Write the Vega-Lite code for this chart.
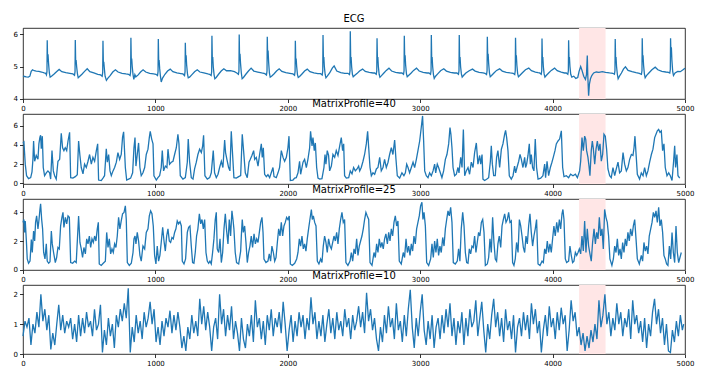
{
"$schema":"https://vega.github.io/schema/vega-lite/v6.json",
"background":"white",
"padding":{"left":12,"top":13,"right":5,"bottom":5},
"config":{
"view":{"stroke":"#000","strokeWidth":0.8},
"font":"DejaVu Sans",
"axis":{"grid":false,"domain":false,"tickColor":"#000","tickSize":3.5,"tickWidth":0.8,"labelFontSize":7,"labelColor":"#000","labelFont":"DejaVu Sans","labelPadding":2},
"title":{"fontSize":10,"fontWeight":"normal","font":"DejaVu Sans","color":"#000","offset":4}
},
"datasets":{
"span":[{"a":4200,"b":4400}],
"ecg":[{"x":0,"y":4.7},{"x":12,"y":4.69},{"x":25,"y":4.68},{"x":40,"y":4.67},{"x":52,"y":4.7},{"x":62,"y":4.85},{"x":72,"y":4.9},{"x":85,"y":4.87},{"x":100,"y":4.86},{"x":120,"y":4.85},{"x":140,"y":4.83},{"x":160,"y":4.8},
{"x":171,"y":4.79},{"x":177,"y":4.74},{"x":181,"y":4.85},{"x":183,"y":5.82},{"x":186,"y":5.15},{"x":189,"y":5.38},{"x":193,"y":5.1},{"x":199,"y":4.8},{"x":205,"y":4.67},{"x":215,"y":4.7},{"x":233,"y":4.76},{"x":253,"y":4.84},{"x":273,"y":4.91},{"x":293,"y":4.84},{"x":323,"y":4.81},{"x":353,"y":4.79},
{"x":377,"y":4.77},{"x":389,"y":4.73},{"x":393,"y":4.84},{"x":395,"y":5.83},{"x":398,"y":5.1},{"x":401,"y":5.2},{"x":405,"y":5.0},{"x":411,"y":4.78},{"x":417,"y":4.65},{"x":427,"y":4.69},{"x":445,"y":4.76},{"x":465,"y":4.85},{"x":485,"y":4.93},{"x":505,"y":4.84},{"x":535,"y":4.8},{"x":565,"y":4.76},
{"x":586,"y":4.74},{"x":598,"y":4.7},{"x":602,"y":4.82},{"x":604,"y":5.8},{"x":607,"y":5.1},{"x":610,"y":5.15},{"x":614,"y":4.95},{"x":620,"y":4.7},{"x":630,"y":4.57},{"x":640,"y":4.63},{"x":658,"y":4.72},{"x":678,"y":4.83},{"x":698,"y":4.9},{"x":718,"y":4.83},{"x":748,"y":4.79},{"x":778,"y":4.77},
{"x":797,"y":4.76},{"x":809,"y":4.72},{"x":813,"y":4.84},{"x":815,"y":5.9},{"x":818,"y":5.15},{"x":821,"y":5.25},{"x":825,"y":5.0},{"x":831,"y":4.75},{"x":837,"y":4.6},{"x":845,"y":4.75},{"x":852,"y":4.68},{"x":870,"y":4.74},{"x":888,"y":4.83},{"x":907,"y":4.9},{"x":927,"y":4.83},{"x":957,"y":4.79},{"x":987,"y":4.77},
{"x":1004,"y":4.76},{"x":1016,"y":4.72},{"x":1020,"y":4.84},{"x":1022,"y":5.86},{"x":1025,"y":5.15},{"x":1028,"y":5.2},{"x":1032,"y":4.95},{"x":1038,"y":4.7},{"x":1044,"y":4.52},{"x":1054,"y":4.64},{"x":1072,"y":4.76},{"x":1092,"y":4.86},{"x":1112,"y":4.92},{"x":1132,"y":4.84},{"x":1162,"y":4.8},{"x":1192,"y":4.78},
{"x":1208,"y":4.77},{"x":1220,"y":4.72},{"x":1224,"y":4.84},{"x":1226,"y":5.74},{"x":1229,"y":5.2},{"x":1232,"y":5.35},{"x":1236,"y":5.05},{"x":1242,"y":4.78},{"x":1248,"y":4.65},{"x":1258,"y":4.67},{"x":1276,"y":4.75},{"x":1296,"y":4.84},{"x":1316,"y":4.9},{"x":1336,"y":4.83},{"x":1366,"y":4.8},{"x":1396,"y":4.77},
{"x":1409,"y":4.76},{"x":1421,"y":4.72},{"x":1425,"y":4.84},{"x":1427,"y":5.96},{"x":1430,"y":5.2},{"x":1433,"y":5.3},{"x":1437,"y":5.0},{"x":1443,"y":4.75},{"x":1449,"y":4.62},{"x":1459,"y":4.66},{"x":1477,"y":4.76},{"x":1497,"y":4.86},{"x":1517,"y":4.93},{"x":1537,"y":4.87},{"x":1567,"y":4.87},{"x":1597,"y":4.84},
{"x":1615,"y":4.8},{"x":1627,"y":4.76},{"x":1631,"y":4.86},{"x":1633,"y":6.0},{"x":1636,"y":5.2},{"x":1639,"y":5.4},{"x":1643,"y":5.1},{"x":1649,"y":4.8},{"x":1655,"y":4.62},{"x":1665,"y":4.66},{"x":1683,"y":4.76},{"x":1703,"y":4.86},{"x":1723,"y":4.95},{"x":1743,"y":4.86},{"x":1773,"y":4.83},{"x":1803,"y":4.8},
{"x":1827,"y":4.78},{"x":1839,"y":4.74},{"x":1843,"y":4.86},{"x":1845,"y":5.93},{"x":1848,"y":5.3},{"x":1851,"y":5.5},{"x":1855,"y":5.15},{"x":1861,"y":4.8},{"x":1867,"y":4.67},{"x":1877,"y":4.7},{"x":1895,"y":4.77},{"x":1915,"y":4.86},{"x":1935,"y":4.93},{"x":1955,"y":4.85},{"x":1985,"y":4.81},{"x":2015,"y":4.79},
{"x":2039,"y":4.77},{"x":2051,"y":4.73},{"x":2055,"y":4.85},{"x":2057,"y":5.8},{"x":2060,"y":5.15},{"x":2063,"y":5.25},{"x":2067,"y":5.0},{"x":2073,"y":4.75},{"x":2079,"y":4.66},{"x":2089,"y":4.69},{"x":2107,"y":4.77},{"x":2127,"y":4.86},{"x":2147,"y":4.92},{"x":2167,"y":4.84},{"x":2197,"y":4.8},{"x":2227,"y":4.78},
{"x":2248,"y":4.78},{"x":2260,"y":4.74},{"x":2264,"y":4.86},{"x":2266,"y":5.98},{"x":2269,"y":5.2},{"x":2272,"y":5.3},{"x":2276,"y":5.0},{"x":2282,"y":4.76},{"x":2288,"y":4.65},{"x":2298,"y":4.7},{"x":2316,"y":4.8},{"x":2336,"y":4.95},{"x":2350,"y":5.02},{"x":2370,"y":4.86},{"x":2400,"y":4.81},{"x":2430,"y":4.79},
{"x":2454,"y":4.79},{"x":2466,"y":4.75},{"x":2470,"y":4.87},{"x":2472,"y":6.1},{"x":2475,"y":5.2},{"x":2478,"y":5.3},{"x":2482,"y":5.0},{"x":2488,"y":4.76},{"x":2494,"y":4.68},{"x":2504,"y":4.72},{"x":2522,"y":4.78},{"x":2542,"y":4.86},{"x":2565,"y":4.92},{"x":2585,"y":4.85},{"x":2615,"y":4.82},{"x":2645,"y":4.8},
{"x":2656,"y":4.8},{"x":2668,"y":4.76},{"x":2672,"y":4.87},{"x":2674,"y":5.88},{"x":2677,"y":5.2},{"x":2680,"y":5.3},{"x":2684,"y":5.0},{"x":2690,"y":4.76},{"x":2696,"y":4.67},{"x":2706,"y":4.71},{"x":2724,"y":4.79},{"x":2744,"y":4.88},{"x":2764,"y":4.95},{"x":2784,"y":4.86},{"x":2814,"y":4.82},{"x":2844,"y":4.8},
{"x":2862,"y":4.8},{"x":2874,"y":4.76},{"x":2878,"y":4.87},{"x":2880,"y":5.96},{"x":2883,"y":5.2},{"x":2886,"y":5.35},{"x":2890,"y":5.05},{"x":2896,"y":4.78},{"x":2902,"y":4.68},{"x":2912,"y":4.72},{"x":2930,"y":4.79},{"x":2950,"y":4.88},{"x":2972,"y":4.95},{"x":2992,"y":4.86},{"x":3022,"y":4.82},{"x":3052,"y":4.8},
{"x":3066,"y":4.8},{"x":3078,"y":4.76},{"x":3082,"y":4.87},{"x":3084,"y":5.98},{"x":3087,"y":5.2},{"x":3090,"y":5.3},{"x":3094,"y":5.0},{"x":3100,"y":4.75},{"x":3106,"y":4.63},{"x":3116,"y":4.7},{"x":3134,"y":4.78},{"x":3154,"y":4.87},{"x":3178,"y":4.93},{"x":3198,"y":4.86},{"x":3228,"y":4.82},{"x":3258,"y":4.8},
{"x":3277,"y":4.8},{"x":3289,"y":4.76},{"x":3293,"y":4.87},{"x":3295,"y":5.98},{"x":3298,"y":5.2},{"x":3301,"y":5.3},{"x":3305,"y":5.0},{"x":3311,"y":4.77},{"x":3317,"y":4.67},{"x":3327,"y":4.72},{"x":3345,"y":4.8},{"x":3370,"y":4.87},{"x":3395,"y":4.92},{"x":3415,"y":4.86},{"x":3445,"y":4.82},{"x":3475,"y":4.8},
{"x":3489,"y":4.79},{"x":3501,"y":4.75},{"x":3505,"y":4.87},{"x":3507,"y":5.93},{"x":3510,"y":5.25},{"x":3513,"y":5.4},{"x":3517,"y":5.1},{"x":3523,"y":4.8},{"x":3529,"y":4.68},{"x":3539,"y":4.72},{"x":3557,"y":4.8},{"x":3577,"y":4.88},{"x":3600,"y":4.93},{"x":3620,"y":4.86},{"x":3650,"y":4.82},{"x":3680,"y":4.8},
{"x":3702,"y":4.79},{"x":3714,"y":4.75},{"x":3718,"y":4.87},{"x":3720,"y":5.9},{"x":3723,"y":5.25},{"x":3726,"y":5.35},{"x":3730,"y":5.05},{"x":3736,"y":4.78},{"x":3742,"y":4.68},{"x":3752,"y":4.72},{"x":3770,"y":4.8},{"x":3795,"y":4.9},{"x":3820,"y":4.95},{"x":3840,"y":4.87},{"x":3870,"y":4.83},{"x":3890,"y":4.81},
{"x":3902,"y":4.8},{"x":3914,"y":4.76},{"x":3918,"y":4.87},{"x":3920,"y":5.87},{"x":3923,"y":5.2},{"x":3926,"y":5.3},{"x":3930,"y":5.0},{"x":3936,"y":4.77},{"x":3942,"y":4.67},{"x":3952,"y":4.72},{"x":3970,"y":4.8},{"x":3990,"y":4.88},{"x":4015,"y":4.95},{"x":4035,"y":4.87},{"x":4065,"y":4.83},{"x":4090,"y":4.8},
{"x":4103,"y":4.8},{"x":4115,"y":4.76},{"x":4119,"y":4.87},{"x":4121,"y":5.82},{"x":4124,"y":5.2},{"x":4127,"y":5.3},{"x":4131,"y":5.0},{"x":4137,"y":4.76},{"x":4145,"y":4.67},{"x":4160,"y":4.7},{"x":4175,"y":4.63},{"x":4190,"y":4.66},{"x":4200,"y":4.85},{"x":4212,"y":5.0},{"x":4222,"y":4.88},{"x":4235,"y":4.7},{"x":4248,"y":4.6},{"x":4256,"y":4.75},{"x":4262,"y":5.34},{"x":4266,"y":4.7},{"x":4272,"y":4.09},{"x":4278,"y":4.45},{"x":4286,"y":4.62},{"x":4296,"y":4.72},{"x":4310,"y":4.8},{"x":4330,"y":4.83},{"x":4350,"y":4.82},{"x":4375,"y":4.84},{"x":4400,"y":4.82},{"x":4430,"y":4.8},{"x":4455,"y":4.79},
{"x":4467,"y":4.76},{"x":4471,"y":4.87},{"x":4473,"y":5.86},{"x":4476,"y":5.2},{"x":4479,"y":5.3},{"x":4483,"y":5.0},{"x":4489,"y":4.76},{"x":4495,"y":4.62},{"x":4505,"y":4.7},{"x":4520,"y":4.8},{"x":4535,"y":4.92},{"x":4550,"y":4.99},{"x":4570,"y":4.88},{"x":4600,"y":4.84},{"x":4630,"y":4.81},{"x":4655,"y":4.79},
{"x":4671,"y":4.76},{"x":4675,"y":4.87},{"x":4677,"y":5.88},{"x":4680,"y":5.25},{"x":4683,"y":5.35},{"x":4687,"y":5.05},{"x":4693,"y":4.78},{"x":4699,"y":4.65},{"x":4709,"y":4.72},{"x":4727,"y":4.8},{"x":4750,"y":4.9},{"x":4775,"y":4.98},{"x":4795,"y":4.9},{"x":4825,"y":4.85},{"x":4855,"y":4.83},{"x":4875,"y":4.82},
{"x":4885,"y":4.8},{"x":4889,"y":4.9},{"x":4891,"y":5.88},{"x":4894,"y":5.3},{"x":4897,"y":5.6},{"x":4901,"y":5.2},{"x":4907,"y":4.85},{"x":4913,"y":4.72},{"x":4925,"y":4.8},{"x":4945,"y":4.85},{"x":4965,"y":4.84},{"x":4985,"y":4.9},{"x":5000,"y":4.95}],
"mp40":[{"x":0,"y":4.2},{"x":7,"y":4.3},{"x":17,"y":2.0},{"x":27,"y":0.8},{"x":42,"y":0.5},{"x":58,"y":0.6},{"x":68,"y":1.2},{"x":75,"y":2.5},{"x":80,"y":4.4},{"x":88,"y":2.3},{"x":100,"y":2.9},{"x":113,"y":2.5},{"x":120,"y":4.1},{"x":128,"y":4.8},{"x":133,"y":5.0},{"x":138,"y":3.6},{"x":146,"y":4.9},{"x":153,"y":1.65},{"x":163,"y":0.8},{"x":176,"y":1.1},{"x":188,"y":1.3},{"x":201,"y":1.1},{"x":209,"y":0.45},{"x":219,"y":3.4},{"x":229,"y":1.3},{"x":239,"y":0.8},{"x":251,"y":0.45},{"x":264,"y":2.3},{"x":277,"y":2.5},{"x":289,"y":5.2},{"x":299,"y":3.7},{"x":309,"y":3.4},{"x":319,"y":3.7},{"x":330,"y":3.4},{"x":340,"y":4.4},{"x":352,"y":5.3},{"x":360,"y":0.6},{"x":377,"y":0.55},{"x":395,"y":0.7},{"x":410,"y":0.9},{"x":420,"y":4.4},{"x":430,"y":2.9},{"x":440,"y":1.65},{"x":453,"y":1.0},{"x":465,"y":2.0},{"x":478,"y":1.65},{"x":491,"y":2.3},{"x":503,"y":3.0},{"x":516,"y":2.0},{"x":528,"y":2.7},{"x":541,"y":2.3},{"x":554,"y":3.4},{"x":564,"y":4.1},{"x":571,"y":0.35},{"x":591,"y":0.3},{"x":604,"y":0.55},{"x":616,"y":0.8},{"x":629,"y":3.6},{"x":637,"y":2.2},{"x":647,"y":3.0},{"x":657,"y":1.3},{"x":667,"y":0.8},{"x":680,"y":1.3},{"x":692,"y":1.65},{"x":705,"y":2.2},{"x":717,"y":3.2},{"x":730,"y":2.5},{"x":742,"y":3.0},{"x":752,"y":4.8},{"x":760,"y":5.35},{"x":773,"y":1.65},{"x":783,"y":0.35},{"x":798,"y":0.45},{"x":813,"y":0.55},{"x":828,"y":1.1},{"x":838,"y":3.7},{"x":846,"y":4.75},{"x":853,"y":1.8},{"x":863,"y":3.0},{"x":873,"y":4.2},{"x":883,"y":1.65},{"x":893,"y":0.8},{"x":906,"y":1.1},{"x":919,"y":1.65},{"x":931,"y":3.0},{"x":944,"y":3.55},{"x":954,"y":4.75},{"x":961,"y":5.4},{"x":972,"y":4.6},{"x":982,"y":4.1},{"x":989,"y":0.8},{"x":1007,"y":0.35},{"x":1019,"y":0.6},{"x":1032,"y":0.8},{"x":1044,"y":1.65},{"x":1052,"y":3.4},{"x":1062,"y":1.3},{"x":1075,"y":1.8},{"x":1087,"y":1.65},{"x":1095,"y":3.55},{"x":1107,"y":2.0},{"x":1120,"y":2.2},{"x":1133,"y":2.3},{"x":1145,"y":3.0},{"x":1158,"y":3.7},{"x":1170,"y":5.1},{"x":1178,"y":4.1},{"x":1188,"y":0.8},{"x":1208,"y":0.45},{"x":1226,"y":0.6},{"x":1241,"y":2.2},{"x":1248,"y":4.6},{"x":1258,"y":2.3},{"x":1271,"y":0.6},{"x":1284,"y":0.45},{"x":1296,"y":1.5},{"x":1309,"y":2.2},{"x":1321,"y":3.0},{"x":1334,"y":3.55},{"x":1347,"y":3.2},{"x":1357,"y":3.9},{"x":1364,"y":5.0},{"x":1374,"y":0.8},{"x":1392,"y":0.45},{"x":1410,"y":0.6},{"x":1422,"y":1.1},{"x":1437,"y":3.4},{"x":1447,"y":1.1},{"x":1460,"y":0.6},{"x":1473,"y":0.95},{"x":1485,"y":1.65},{"x":1498,"y":2.3},{"x":1510,"y":1.65},{"x":1523,"y":4.5},{"x":1530,"y":3.2},{"x":1540,"y":2.5},{"x":1553,"y":1.65},{"x":1563,"y":1.3},{"x":1573,"y":5.4},{"x":1593,"y":0.6},{"x":1611,"y":0.55},{"x":1629,"y":0.7},{"x":1644,"y":0.8},{"x":1656,"y":5.1},{"x":1666,"y":3.4},{"x":1679,"y":1.1},{"x":1694,"y":0.6},{"x":1707,"y":2.2},{"x":1717,"y":2.5},{"x":1729,"y":2.9},{"x":1742,"y":3.4},{"x":1750,"y":2.5},{"x":1762,"y":2.7},{"x":1775,"y":1.8},{"x":1787,"y":3.0},{"x":1800,"y":4.1},{"x":1807,"y":2.7},{"x":1815,"y":3.7},{"x":1825,"y":0.95},{"x":1838,"y":0.7},{"x":1850,"y":0.9},{"x":1863,"y":0.6},{"x":1875,"y":1.1},{"x":1888,"y":1.65},{"x":1896,"y":0.7},{"x":1913,"y":0.6},{"x":1926,"y":1.1},{"x":1938,"y":1.65},{"x":1951,"y":3.4},{"x":1964,"y":2.7},{"x":1976,"y":2.3},{"x":1989,"y":2.7},{"x":2001,"y":3.7},{"x":2009,"y":4.9},{"x":2019,"y":0.3},{"x":2039,"y":0.35},{"x":2052,"y":0.55},{"x":2064,"y":0.6},{"x":2077,"y":1.1},{"x":2089,"y":2.3},{"x":2097,"y":0.95},{"x":2107,"y":1.65},{"x":2115,"y":2.2},{"x":2127,"y":2.5},{"x":2140,"y":1.65},{"x":2152,"y":2.5},{"x":2165,"y":3.7},{"x":2172,"y":5.4},{"x":2183,"y":3.9},{"x":2190,"y":4.75},{"x":2200,"y":3.4},{"x":2208,"y":4.2},{"x":2218,"y":1.65},{"x":2228,"y":0.55},{"x":2241,"y":0.45},{"x":2258,"y":0.5},{"x":2273,"y":1.65},{"x":2281,"y":3.0},{"x":2288,"y":2.0},{"x":2298,"y":3.4},{"x":2308,"y":2.9},{"x":2316,"y":1.3},{"x":2329,"y":1.8},{"x":2341,"y":3.0},{"x":2354,"y":2.7},{"x":2366,"y":3.4},{"x":2379,"y":2.9},{"x":2392,"y":3.9},{"x":2404,"y":4.75},{"x":2414,"y":3.4},{"x":2422,"y":4.1},{"x":2429,"y":0.8},{"x":2442,"y":0.55},{"x":2460,"y":0.6},{"x":2472,"y":1.3},{"x":2485,"y":1.0},{"x":2497,"y":1.65},{"x":2510,"y":1.3},{"x":2523,"y":1.5},{"x":2535,"y":1.8},{"x":2543,"y":1.3},{"x":2555,"y":1.65},{"x":2568,"y":2.3},{"x":2580,"y":3.0},{"x":2593,"y":4.1},{"x":2603,"y":5.4},{"x":2611,"y":3.7},{"x":2621,"y":1.65},{"x":2631,"y":0.8},{"x":2643,"y":1.1},{"x":2656,"y":0.95},{"x":2669,"y":1.5},{"x":2681,"y":1.65},{"x":2694,"y":2.7},{"x":2706,"y":1.3},{"x":2719,"y":1.65},{"x":2731,"y":2.5},{"x":2744,"y":1.65},{"x":2757,"y":2.2},{"x":2769,"y":3.0},{"x":2782,"y":3.7},{"x":2794,"y":3.0},{"x":2807,"y":4.5},{"x":2817,"y":2.5},{"x":2827,"y":0.8},{"x":2845,"y":0.55},{"x":2862,"y":1.1},{"x":2877,"y":0.8},{"x":2888,"y":1.1},{"x":2898,"y":2.0},{"x":2908,"y":1.65},{"x":2920,"y":1.1},{"x":2933,"y":1.65},{"x":2946,"y":2.2},{"x":2958,"y":1.65},{"x":2971,"y":2.5},{"x":2983,"y":3.4},{"x":2996,"y":4.4},{"x":3008,"y":5.8},{"x":3018,"y":7.0},{"x":3026,"y":4.4},{"x":3034,"y":1.3},{"x":3046,"y":0.8},{"x":3059,"y":0.6},{"x":3071,"y":1.1},{"x":3084,"y":0.8},{"x":3097,"y":1.3},{"x":3109,"y":2.0},{"x":3117,"y":1.1},{"x":3129,"y":2.0},{"x":3139,"y":1.65},{"x":3152,"y":1.1},{"x":3164,"y":0.6},{"x":3177,"y":1.3},{"x":3190,"y":2.5},{"x":3202,"y":3.0},{"x":3215,"y":4.1},{"x":3225,"y":5.8},{"x":3232,"y":5.1},{"x":3240,"y":3.7},{"x":3248,"y":1.65},{"x":3260,"y":0.8},{"x":3273,"y":0.95},{"x":3285,"y":1.65},{"x":3293,"y":1.1},{"x":3306,"y":2.7},{"x":3316,"y":1.65},{"x":3326,"y":5.6},{"x":3336,"y":0.8},{"x":3348,"y":1.3},{"x":3361,"y":1.65},{"x":3373,"y":0.95},{"x":3386,"y":2.2},{"x":3399,"y":1.65},{"x":3411,"y":3.2},{"x":3424,"y":4.2},{"x":3436,"y":2.0},{"x":3449,"y":2.9},{"x":3457,"y":2.0},{"x":3467,"y":3.0},{"x":3474,"y":0.45},{"x":3487,"y":0.3},{"x":3504,"y":0.45},{"x":3517,"y":0.6},{"x":3530,"y":2.3},{"x":3537,"y":3.9},{"x":3545,"y":2.0},{"x":3555,"y":0.8},{"x":3567,"y":0.8},{"x":3577,"y":2.7},{"x":3587,"y":3.4},{"x":3600,"y":1.65},{"x":3613,"y":3.55},{"x":3625,"y":4.1},{"x":3638,"y":5.1},{"x":3645,"y":5.5},{"x":3653,"y":4.75},{"x":3663,"y":3.4},{"x":3673,"y":0.8},{"x":3688,"y":0.45},{"x":3701,"y":0.8},{"x":3713,"y":1.8},{"x":3721,"y":1.1},{"x":3731,"y":1.65},{"x":3744,"y":2.3},{"x":3754,"y":3.0},{"x":3764,"y":2.5},{"x":3776,"y":1.65},{"x":3789,"y":2.7},{"x":3796,"y":1.65},{"x":3804,"y":2.0},{"x":3814,"y":2.9},{"x":3824,"y":4.1},{"x":3832,"y":2.0},{"x":3839,"y":3.0},{"x":3849,"y":1.65},{"x":3859,"y":1.3},{"x":3869,"y":4.6},{"x":3879,"y":1.65},{"x":3890,"y":0.45},{"x":3910,"y":0.55},{"x":3927,"y":0.8},{"x":3940,"y":2.0},{"x":3947,"y":0.6},{"x":3958,"y":2.3},{"x":3970,"y":0.8},{"x":3983,"y":1.65},{"x":3995,"y":2.2},{"x":4005,"y":2.7},{"x":4018,"y":3.4},{"x":4028,"y":4.1},{"x":4041,"y":4.4},{"x":4053,"y":4.6},{"x":4066,"y":5.45},{"x":4076,"y":1.65},{"x":4086,"y":0.7},{"x":4104,"y":0.8},{"x":4121,"y":0.6},{"x":4136,"y":0.95},{"x":4154,"y":0.8},{"x":4172,"y":0.95},{"x":4187,"y":0.6},{"x":4204,"y":1.3},{"x":4212,"y":2.3},{"x":4222,"y":4.75},{"x":4232,"y":3.4},{"x":4242,"y":4.9},{"x":4250,"y":4.6},{"x":4257,"y":3.4},{"x":4267,"y":2.7},{"x":4275,"y":1.8},{"x":4282,"y":0.8},{"x":4292,"y":3.4},{"x":4300,"y":4.4},{"x":4307,"y":3.7},{"x":4318,"y":2.0},{"x":4328,"y":3.55},{"x":4338,"y":4.4},{"x":4348,"y":3.4},{"x":4358,"y":4.1},{"x":4368,"y":2.3},{"x":4378,"y":3.0},{"x":4388,"y":5.1},{"x":4398,"y":4.9},{"x":4408,"y":3.55},{"x":4418,"y":1.5},{"x":4431,"y":0.8},{"x":4443,"y":0.6},{"x":4456,"y":1.65},{"x":4469,"y":0.8},{"x":4481,"y":1.5},{"x":4494,"y":2.2},{"x":4506,"y":1.1},{"x":4519,"y":1.3},{"x":4532,"y":3.2},{"x":4544,"y":2.0},{"x":4557,"y":1.3},{"x":4569,"y":1.65},{"x":4582,"y":2.5},{"x":4595,"y":3.0},{"x":4607,"y":2.9},{"x":4615,"y":3.7},{"x":4622,"y":4.9},{"x":4632,"y":2.7},{"x":4640,"y":0.95},{"x":4657,"y":0.45},{"x":4670,"y":1.1},{"x":4683,"y":0.8},{"x":4695,"y":1.65},{"x":4708,"y":0.8},{"x":4720,"y":1.3},{"x":4733,"y":2.2},{"x":4746,"y":3.0},{"x":4758,"y":3.55},{"x":4771,"y":4.75},{"x":4781,"y":5.1},{"x":4791,"y":5.45},{"x":4801,"y":5.6},{"x":4811,"y":5.3},{"x":4821,"y":5.45},{"x":4831,"y":3.4},{"x":4841,"y":4.1},{"x":4851,"y":1.65},{"x":4864,"y":0.8},{"x":4877,"y":1.1},{"x":4889,"y":0.8},{"x":4902,"y":0.3},{"x":4914,"y":2.3},{"x":4922,"y":3.9},{"x":4929,"y":1.65},{"x":4939,"y":3.0},{"x":4947,"y":0.8},{"x":4960,"y":0.55}],
"mp25":[{"x":0,"y":3.3},{"x":7,"y":3.5},{"x":12,"y":2.6},{"x":17,"y":3.4},{"x":25,"y":2.1},{"x":32,"y":0.75},{"x":42,"y":0.45},{"x":53,"y":0.6},{"x":63,"y":2.1},{"x":70,"y":1.2},{"x":80,"y":2.7},{"x":88,"y":2.0},{"x":95,"y":3.3},{"x":103,"y":3.75},{"x":113,"y":2.85},{"x":121,"y":3.5},{"x":128,"y":4.2},{"x":133,"y":4.6},{"x":141,"y":3.5},{"x":148,"y":2.85},{"x":156,"y":1.2},{"x":166,"y":0.75},{"x":176,"y":1.8},{"x":183,"y":0.6},{"x":194,"y":0.45},{"x":204,"y":0.55},{"x":214,"y":2.7},{"x":221,"y":1.8},{"x":231,"y":1.2},{"x":244,"y":0.5},{"x":254,"y":0.85},{"x":264,"y":1.55},{"x":274,"y":1.45},{"x":284,"y":3.05},{"x":294,"y":3.65},{"x":302,"y":4.0},{"x":309,"y":2.95},{"x":320,"y":3.65},{"x":330,"y":3.2},{"x":340,"y":3.75},{"x":350,"y":3.65},{"x":360,"y":0.5},{"x":375,"y":0.45},{"x":390,"y":0.6},{"x":402,"y":0.5},{"x":420,"y":3.75},{"x":430,"y":1.9},{"x":440,"y":1.45},{"x":450,"y":0.85},{"x":460,"y":1.55},{"x":471,"y":1.1},{"x":481,"y":2.15},{"x":491,"y":1.8},{"x":501,"y":2.35},{"x":511,"y":1.55},{"x":521,"y":2.15},{"x":531,"y":1.9},{"x":541,"y":2.35},{"x":551,"y":2.0},{"x":561,"y":2.85},{"x":569,"y":3.3},{"x":576,"y":0.4},{"x":591,"y":0.3},{"x":606,"y":0.45},{"x":622,"y":0.6},{"x":632,"y":2.6},{"x":642,"y":1.55},{"x":652,"y":2.15},{"x":662,"y":1.1},{"x":672,"y":1.45},{"x":682,"y":1.2},{"x":692,"y":1.8},{"x":702,"y":1.55},{"x":712,"y":2.35},{"x":722,"y":3.65},{"x":732,"y":2.85},{"x":742,"y":3.4},{"x":752,"y":3.9},{"x":763,"y":4.0},{"x":773,"y":4.45},{"x":780,"y":3.5},{"x":788,"y":0.5},{"x":803,"y":0.3},{"x":818,"y":0.45},{"x":831,"y":1.2},{"x":838,"y":2.15},{"x":846,"y":2.35},{"x":853,"y":1.8},{"x":863,"y":2.6},{"x":873,"y":2.0},{"x":883,"y":1.0},{"x":893,"y":0.6},{"x":906,"y":1.65},{"x":919,"y":1.45},{"x":931,"y":2.6},{"x":944,"y":2.85},{"x":954,"y":3.75},{"x":964,"y":4.1},{"x":974,"y":3.9},{"x":984,"y":3.05},{"x":994,"y":1.0},{"x":1004,"y":0.4},{"x":1014,"y":1.65},{"x":1024,"y":0.6},{"x":1034,"y":1.0},{"x":1044,"y":1.9},{"x":1055,"y":2.95},{"x":1065,"y":2.0},{"x":1075,"y":1.3},{"x":1085,"y":2.35},{"x":1095,"y":2.85},{"x":1105,"y":2.0},{"x":1115,"y":1.9},{"x":1125,"y":2.25},{"x":1135,"y":2.15},{"x":1145,"y":2.6},{"x":1155,"y":2.85},{"x":1165,"y":3.4},{"x":1175,"y":3.2},{"x":1186,"y":3.35},{"x":1196,"y":3.05},{"x":1203,"y":0.6},{"x":1216,"y":0.4},{"x":1228,"y":0.75},{"x":1241,"y":2.6},{"x":1251,"y":2.95},{"x":1261,"y":3.05},{"x":1271,"y":1.65},{"x":1281,"y":0.5},{"x":1291,"y":0.45},{"x":1301,"y":1.2},{"x":1311,"y":2.35},{"x":1321,"y":2.85},{"x":1332,"y":3.9},{"x":1342,"y":3.2},{"x":1352,"y":3.5},{"x":1362,"y":2.85},{"x":1372,"y":3.5},{"x":1382,"y":1.2},{"x":1392,"y":0.6},{"x":1402,"y":0.45},{"x":1412,"y":0.6},{"x":1422,"y":0.4},{"x":1432,"y":1.2},{"x":1442,"y":2.15},{"x":1452,"y":3.5},{"x":1460,"y":4.0},{"x":1467,"y":1.45},{"x":1478,"y":1.2},{"x":1488,"y":2.15},{"x":1498,"y":0.5},{"x":1508,"y":1.2},{"x":1518,"y":2.85},{"x":1528,"y":3.9},{"x":1538,"y":2.7},{"x":1548,"y":1.8},{"x":1558,"y":3.5},{"x":1568,"y":2.35},{"x":1578,"y":4.1},{"x":1586,"y":3.5},{"x":1593,"y":2.85},{"x":1603,"y":1.2},{"x":1613,"y":0.5},{"x":1629,"y":0.4},{"x":1644,"y":1.3},{"x":1649,"y":2.35},{"x":1656,"y":3.5},{"x":1664,"y":2.6},{"x":1674,"y":3.05},{"x":1684,"y":1.9},{"x":1694,"y":0.5},{"x":1704,"y":1.2},{"x":1714,"y":1.65},{"x":1724,"y":2.35},{"x":1734,"y":1.55},{"x":1745,"y":2.5},{"x":1755,"y":1.8},{"x":1765,"y":2.15},{"x":1775,"y":1.9},{"x":1785,"y":2.6},{"x":1795,"y":3.3},{"x":1805,"y":3.65},{"x":1813,"y":2.6},{"x":1820,"y":0.75},{"x":1835,"y":0.5},{"x":1850,"y":0.6},{"x":1860,"y":1.1},{"x":1870,"y":0.6},{"x":1880,"y":1.65},{"x":1891,"y":1.2},{"x":1901,"y":0.6},{"x":1911,"y":0.85},{"x":1921,"y":1.9},{"x":1931,"y":2.85},{"x":1941,"y":2.35},{"x":1951,"y":3.3},{"x":1961,"y":2.35},{"x":1971,"y":3.05},{"x":1981,"y":3.3},{"x":1991,"y":3.65},{"x":2001,"y":3.5},{"x":2011,"y":3.75},{"x":2019,"y":0.4},{"x":2034,"y":0.3},{"x":2052,"y":0.45},{"x":2067,"y":0.75},{"x":2077,"y":1.2},{"x":2087,"y":2.15},{"x":2097,"y":1.65},{"x":2107,"y":2.35},{"x":2117,"y":1.45},{"x":2127,"y":1.8},{"x":2137,"y":1.3},{"x":2147,"y":2.15},{"x":2157,"y":2.85},{"x":2167,"y":3.5},{"x":2178,"y":4.2},{"x":2185,"y":3.5},{"x":2193,"y":3.75},{"x":2203,"y":3.3},{"x":2213,"y":3.05},{"x":2223,"y":0.6},{"x":2235,"y":0.4},{"x":2248,"y":0.75},{"x":2258,"y":0.5},{"x":2268,"y":1.65},{"x":2278,"y":2.35},{"x":2288,"y":1.9},{"x":2298,"y":1.2},{"x":2308,"y":2.15},{"x":2319,"y":1.65},{"x":2329,"y":1.45},{"x":2339,"y":1.9},{"x":2349,"y":2.35},{"x":2359,"y":2.0},{"x":2369,"y":2.6},{"x":2379,"y":1.8},{"x":2389,"y":2.85},{"x":2399,"y":3.5},{"x":2409,"y":4.0},{"x":2419,"y":3.3},{"x":2429,"y":3.5},{"x":2439,"y":0.5},{"x":2454,"y":0.3},{"x":2470,"y":0.6},{"x":2480,"y":1.2},{"x":2490,"y":0.6},{"x":2500,"y":1.45},{"x":2510,"y":1.1},{"x":2520,"y":2.15},{"x":2530,"y":1.0},{"x":2540,"y":1.65},{"x":2550,"y":2.0},{"x":2560,"y":2.35},{"x":2570,"y":2.85},{"x":2580,"y":3.5},{"x":2590,"y":4.0},{"x":2600,"y":3.75},{"x":2611,"y":3.5},{"x":2621,"y":0.5},{"x":2636,"y":0.3},{"x":2651,"y":1.2},{"x":2661,"y":0.85},{"x":2671,"y":1.8},{"x":2681,"y":1.2},{"x":2691,"y":2.15},{"x":2701,"y":1.55},{"x":2711,"y":1.9},{"x":2721,"y":1.45},{"x":2731,"y":2.15},{"x":2741,"y":2.5},{"x":2752,"y":1.8},{"x":2762,"y":2.6},{"x":2772,"y":2.0},{"x":2782,"y":2.85},{"x":2792,"y":2.35},{"x":2802,"y":3.3},{"x":2812,"y":3.75},{"x":2822,"y":3.05},{"x":2832,"y":3.4},{"x":2842,"y":0.6},{"x":2857,"y":0.4},{"x":2872,"y":1.2},{"x":2882,"y":0.85},{"x":2893,"y":2.15},{"x":2903,"y":1.2},{"x":2913,"y":1.65},{"x":2923,"y":1.0},{"x":2933,"y":1.8},{"x":2943,"y":1.3},{"x":2953,"y":2.35},{"x":2963,"y":1.8},{"x":2973,"y":2.85},{"x":2983,"y":3.3},{"x":2993,"y":3.75},{"x":3003,"y":4.45},{"x":3013,"y":4.7},{"x":3021,"y":3.5},{"x":3029,"y":4.0},{"x":3039,"y":3.05},{"x":3049,"y":0.5},{"x":3064,"y":0.3},{"x":3079,"y":0.75},{"x":3089,"y":1.8},{"x":3099,"y":0.85},{"x":3109,"y":2.0},{"x":3119,"y":1.2},{"x":3129,"y":2.15},{"x":3139,"y":1.0},{"x":3149,"y":1.65},{"x":3159,"y":1.2},{"x":3170,"y":2.25},{"x":3180,"y":1.65},{"x":3190,"y":2.85},{"x":3200,"y":3.5},{"x":3210,"y":4.1},{"x":3220,"y":3.75},{"x":3230,"y":4.35},{"x":3240,"y":3.3},{"x":3250,"y":0.5},{"x":3265,"y":0.4},{"x":3280,"y":0.6},{"x":3290,"y":1.45},{"x":3300,"y":0.6},{"x":3310,"y":2.85},{"x":3321,"y":4.0},{"x":3331,"y":3.05},{"x":3341,"y":1.2},{"x":3351,"y":0.5},{"x":3361,"y":0.45},{"x":3371,"y":1.45},{"x":3381,"y":1.1},{"x":3391,"y":1.65},{"x":3401,"y":1.55},{"x":3411,"y":2.35},{"x":3421,"y":1.2},{"x":3431,"y":1.9},{"x":3441,"y":2.6},{"x":3451,"y":2.35},{"x":3462,"y":3.3},{"x":3472,"y":3.5},{"x":3482,"y":2.6},{"x":3492,"y":0.3},{"x":3507,"y":0.4},{"x":3517,"y":0.85},{"x":3527,"y":2.15},{"x":3537,"y":1.2},{"x":3547,"y":3.65},{"x":3557,"y":1.9},{"x":3567,"y":0.75},{"x":3577,"y":0.6},{"x":3587,"y":1.8},{"x":3597,"y":2.35},{"x":3608,"y":1.55},{"x":3618,"y":3.05},{"x":3628,"y":3.5},{"x":3638,"y":3.9},{"x":3648,"y":3.3},{"x":3658,"y":3.5},{"x":3668,"y":4.0},{"x":3678,"y":3.3},{"x":3688,"y":3.4},{"x":3698,"y":0.5},{"x":3708,"y":0.3},{"x":3718,"y":0.75},{"x":3728,"y":1.9},{"x":3739,"y":1.2},{"x":3749,"y":3.5},{"x":3759,"y":3.05},{"x":3769,"y":2.35},{"x":3779,"y":1.55},{"x":3789,"y":1.2},{"x":3799,"y":2.35},{"x":3809,"y":1.8},{"x":3819,"y":3.05},{"x":3829,"y":3.9},{"x":3839,"y":2.6},{"x":3849,"y":1.65},{"x":3859,"y":2.35},{"x":3869,"y":2.85},{"x":3879,"y":3.5},{"x":3890,"y":0.4},{"x":3905,"y":0.3},{"x":3920,"y":0.6},{"x":3930,"y":0.5},{"x":3940,"y":1.45},{"x":3950,"y":1.1},{"x":3960,"y":2.0},{"x":3970,"y":1.2},{"x":3980,"y":1.8},{"x":3990,"y":1.2},{"x":4000,"y":2.15},{"x":4010,"y":3.05},{"x":4020,"y":2.35},{"x":4031,"y":3.3},{"x":4041,"y":2.6},{"x":4051,"y":3.5},{"x":4061,"y":2.85},{"x":4071,"y":3.9},{"x":4078,"y":4.2},{"x":4086,"y":3.5},{"x":4096,"y":0.75},{"x":4106,"y":0.5},{"x":4121,"y":0.6},{"x":4131,"y":1.65},{"x":4141,"y":1.0},{"x":4151,"y":0.5},{"x":4161,"y":0.6},{"x":4172,"y":1.2},{"x":4182,"y":1.0},{"x":4192,"y":1.2},{"x":4202,"y":1.45},{"x":4212,"y":1.1},{"x":4222,"y":2.35},{"x":4232,"y":1.3},{"x":4242,"y":3.4},{"x":4252,"y":1.2},{"x":4262,"y":2.85},{"x":4272,"y":1.65},{"x":4282,"y":1.1},{"x":4292,"y":0.6},{"x":4302,"y":1.9},{"x":4313,"y":2.85},{"x":4323,"y":1.8},{"x":4333,"y":2.6},{"x":4343,"y":2.15},{"x":4353,"y":3.65},{"x":4363,"y":2.35},{"x":4373,"y":2.85},{"x":4383,"y":1.45},{"x":4393,"y":4.2},{"x":4403,"y":3.65},{"x":4413,"y":3.3},{"x":4423,"y":2.35},{"x":4433,"y":0.75},{"x":4448,"y":0.3},{"x":4459,"y":0.75},{"x":4469,"y":1.65},{"x":4479,"y":1.2},{"x":4489,"y":2.15},{"x":4499,"y":1.0},{"x":4509,"y":1.45},{"x":4519,"y":0.75},{"x":4529,"y":1.9},{"x":4539,"y":1.2},{"x":4549,"y":2.15},{"x":4559,"y":1.65},{"x":4569,"y":2.6},{"x":4579,"y":2.0},{"x":4589,"y":2.85},{"x":4600,"y":2.35},{"x":4610,"y":3.05},{"x":4620,"y":3.5},{"x":4630,"y":2.15},{"x":4640,"y":0.75},{"x":4655,"y":0.4},{"x":4670,"y":1.0},{"x":4680,"y":0.6},{"x":4690,"y":1.9},{"x":4700,"y":1.3},{"x":4710,"y":1.65},{"x":4720,"y":1.1},{"x":4730,"y":2.35},{"x":4741,"y":2.85},{"x":4751,"y":3.3},{"x":4761,"y":4.0},{"x":4771,"y":3.65},{"x":4781,"y":4.1},{"x":4791,"y":3.3},{"x":4801,"y":4.35},{"x":4811,"y":3.05},{"x":4821,"y":3.5},{"x":4831,"y":2.6},{"x":4841,"y":1.0},{"x":4851,"y":0.75},{"x":4861,"y":0.4},{"x":4871,"y":0.3},{"x":4882,"y":1.65},{"x":4892,"y":0.75},{"x":4902,"y":2.6},{"x":4912,"y":1.2},{"x":4922,"y":0.5},{"x":4932,"y":3.05},{"x":4942,"y":1.2},{"x":4952,"y":0.5},{"x":4962,"y":0.85},{"x":4972,"y":1.2}],
"mp10":[{"x":0,"y":0.6},{"x":15,"y":1.1},{"x":30,"y":0.9},{"x":45,"y":1.2},{"x":60,"y":0.3},{"x":75,"y":1.0},{"x":90,"y":0.7},{"x":105,"y":1.4},{"x":120,"y":0.9},{"x":135,"y":2.0},{"x":150,"y":1.1},{"x":165,"y":1.5},{"x":180,"y":0.8},{"x":195,"y":1.3},{"x":210,"y":0.15},{"x":225,"y":0.7},{"x":240,"y":0.3},{"x":255,"y":1.0},{"x":270,"y":1.65},{"x":285,"y":0.8},{"x":300,"y":1.3},{"x":315,"y":0.7},{"x":330,"y":1.1},{"x":345,"y":0.9},{"x":360,"y":1.2},{"x":375,"y":0.5},{"x":390,"y":1.0},{"x":405,"y":0.4},{"x":420,"y":1.3},{"x":435,"y":0.6},{"x":450,"y":1.2},{"x":465,"y":0.7},{"x":480,"y":1.4},{"x":495,"y":0.9},{"x":510,"y":1.1},{"x":525,"y":0.6},{"x":540,"y":1.5},{"x":555,"y":0.8},{"x":570,"y":1.0},{"x":585,"y":1.65},{"x":600,"y":0.05},{"x":615,"y":0.8},{"x":630,"y":0.3},{"x":645,"y":1.2},{"x":660,"y":0.6},{"x":675,"y":1.0},{"x":690,"y":0.2},{"x":705,"y":1.3},{"x":720,"y":0.9},{"x":735,"y":1.5},{"x":750,"y":1.1},{"x":765,"y":1.7},{"x":780,"y":1.2},{"x":795,"y":2.2},{"x":810,"y":0.05},{"x":825,"y":0.9},{"x":840,"y":0.4},{"x":855,"y":1.3},{"x":870,"y":0.7},{"x":885,"y":1.1},{"x":900,"y":0.5},{"x":915,"y":1.4},{"x":930,"y":0.9},{"x":945,"y":1.2},{"x":960,"y":1.75},{"x":975,"y":1.0},{"x":990,"y":1.5},{"x":1005,"y":0.4},{"x":1020,"y":0.9},{"x":1035,"y":0.3},{"x":1050,"y":1.1},{"x":1065,"y":0.6},{"x":1080,"y":1.2},{"x":1095,"y":0.9},{"x":1110,"y":1.45},{"x":1125,"y":0.7},{"x":1140,"y":1.3},{"x":1155,"y":0.8},{"x":1170,"y":1.4},{"x":1185,"y":0.9},{"x":1200,"y":0.2},{"x":1215,"y":0.6},{"x":1230,"y":0.1},{"x":1245,"y":0.9},{"x":1260,"y":0.5},{"x":1275,"y":1.3},{"x":1290,"y":0.7},{"x":1305,"y":1.1},{"x":1320,"y":0.6},{"x":1335,"y":1.85},{"x":1350,"y":1.0},{"x":1365,"y":1.6},{"x":1380,"y":0.8},{"x":1395,"y":1.4},{"x":1410,"y":0.9},{"x":1425,"y":0.1},{"x":1440,"y":0.9},{"x":1455,"y":1.2},{"x":1470,"y":0.5},{"x":1485,"y":2.0},{"x":1500,"y":1.0},{"x":1515,"y":1.5},{"x":1530,"y":0.6},{"x":1545,"y":1.3},{"x":1560,"y":0.8},{"x":1575,"y":1.6},{"x":1590,"y":0.5},{"x":1605,"y":1.1},{"x":1620,"y":0.7},{"x":1635,"y":0.1},{"x":1650,"y":1.2},{"x":1665,"y":0.5},{"x":1680,"y":0.2},{"x":1695,"y":1.0},{"x":1710,"y":0.6},{"x":1725,"y":1.3},{"x":1740,"y":0.4},{"x":1755,"y":1.8},{"x":1770,"y":0.9},{"x":1785,"y":1.2},{"x":1800,"y":0.5},{"x":1815,"y":1.1},{"x":1830,"y":0.3},{"x":1845,"y":1.3},{"x":1860,"y":0.8},{"x":1875,"y":1.5},{"x":1890,"y":0.6},{"x":1905,"y":1.2},{"x":1920,"y":0.9},{"x":1935,"y":1.4},{"x":1950,"y":0.7},{"x":1965,"y":1.75},{"x":1980,"y":1.0},{"x":1995,"y":0.1},{"x":2010,"y":0.8},{"x":2025,"y":1.3},{"x":2040,"y":0.4},{"x":2055,"y":1.1},{"x":2070,"y":0.6},{"x":2085,"y":1.4},{"x":2100,"y":0.9},{"x":2115,"y":1.3},{"x":2130,"y":0.5},{"x":2145,"y":1.2},{"x":2160,"y":0.8},{"x":2175,"y":1.9},{"x":2190,"y":1.0},{"x":2205,"y":1.4},{"x":2220,"y":0.5},{"x":2235,"y":1.1},{"x":2250,"y":0.6},{"x":2265,"y":1.3},{"x":2280,"y":0.4},{"x":2295,"y":1.0},{"x":2310,"y":1.5},{"x":2325,"y":0.7},{"x":2340,"y":1.2},{"x":2355,"y":0.5},{"x":2370,"y":1.4},{"x":2385,"y":0.8},{"x":2400,"y":1.1},{"x":2415,"y":0.6},{"x":2430,"y":1.5},{"x":2445,"y":0.9},{"x":2460,"y":1.2},{"x":2475,"y":0.5},{"x":2490,"y":1.3},{"x":2505,"y":0.8},{"x":2520,"y":1.1},{"x":2535,"y":1.6},{"x":2550,"y":0.9},{"x":2565,"y":1.4},{"x":2580,"y":0.7},{"x":2595,"y":2.05},{"x":2610,"y":1.1},{"x":2625,"y":1.5},{"x":2640,"y":0.8},{"x":2655,"y":1.2},{"x":2670,"y":0.5},{"x":2685,"y":0.1},{"x":2700,"y":0.9},{"x":2715,"y":0.4},{"x":2730,"y":1.3},{"x":2745,"y":0.7},{"x":2760,"y":1.6},{"x":2775,"y":0.9},{"x":2790,"y":1.2},{"x":2805,"y":0.5},{"x":2820,"y":1.7},{"x":2835,"y":0.8},{"x":2850,"y":1.1},{"x":2865,"y":0.4},{"x":2880,"y":1.3},{"x":2895,"y":0.6},{"x":2910,"y":1.5},{"x":2925,"y":2.15},{"x":2940,"y":0.9},{"x":2955,"y":0.2},{"x":2970,"y":1.2},{"x":2985,"y":0.6},{"x":3000,"y":1.4},{"x":3015,"y":2.0},{"x":3030,"y":0.8},{"x":3045,"y":0.3},{"x":3060,"y":1.1},{"x":3075,"y":0.5},{"x":3090,"y":1.3},{"x":3105,"y":0.2},{"x":3120,"y":0.9},{"x":3135,"y":1.2},{"x":3150,"y":0.5},{"x":3165,"y":1.3},{"x":3180,"y":0.7},{"x":3195,"y":1.5},{"x":3210,"y":0.9},{"x":3225,"y":1.7},{"x":3240,"y":0.6},{"x":3255,"y":1.2},{"x":3270,"y":0.3},{"x":3285,"y":1.1},{"x":3300,"y":0.7},{"x":3315,"y":1.4},{"x":3330,"y":0.3},{"x":3345,"y":1.2},{"x":3360,"y":0.6},{"x":3375,"y":1.5},{"x":3390,"y":0.9},{"x":3405,"y":1.1},{"x":3420,"y":1.8},{"x":3435,"y":0.6},{"x":3450,"y":1.2},{"x":3465,"y":1.75},{"x":3480,"y":0.8},{"x":3495,"y":0.05},{"x":3510,"y":1.0},{"x":3525,"y":0.5},{"x":3540,"y":1.3},{"x":3555,"y":1.85},{"x":3570,"y":0.9},{"x":3585,"y":1.4},{"x":3600,"y":0.6},{"x":3615,"y":1.2},{"x":3630,"y":0.4},{"x":3645,"y":1.5},{"x":3660,"y":0.8},{"x":3675,"y":1.1},{"x":3690,"y":0.5},{"x":3705,"y":1.3},{"x":3720,"y":0.05},{"x":3735,"y":0.9},{"x":3750,"y":1.2},{"x":3765,"y":0.6},{"x":3780,"y":1.4},{"x":3795,"y":0.8},{"x":3810,"y":1.3},{"x":3825,"y":0.5},{"x":3840,"y":1.7},{"x":3855,"y":1.0},{"x":3870,"y":1.5},{"x":3885,"y":0.7},{"x":3900,"y":1.1},{"x":3915,"y":0.05},{"x":3930,"y":0.8},{"x":3945,"y":1.3},{"x":3960,"y":0.6},{"x":3975,"y":1.6},{"x":3990,"y":0.9},{"x":4005,"y":1.2},{"x":4020,"y":0.5},{"x":4035,"y":1.4},{"x":4050,"y":0.8},{"x":4065,"y":1.55},{"x":4080,"y":1.0},{"x":4095,"y":1.3},{"x":4110,"y":0.1},{"x":4125,"y":0.8},{"x":4140,"y":1.8},{"x":4155,"y":1.1},{"x":4170,"y":1.4},{"x":4185,"y":0.6},{"x":4200,"y":0.9},{"x":4215,"y":0.3},{"x":4230,"y":0.7},{"x":4245,"y":0.1},{"x":4260,"y":0.6},{"x":4275,"y":0.2},{"x":4290,"y":0.8},{"x":4305,"y":0.4},{"x":4320,"y":1.0},{"x":4335,"y":0.5},{"x":4350,"y":1.8},{"x":4365,"y":0.9},{"x":4380,"y":1.3},{"x":4395,"y":2.0},{"x":4410,"y":1.0},{"x":4425,"y":1.4},{"x":4440,"y":0.6},{"x":4455,"y":1.2},{"x":4470,"y":0.8},{"x":4485,"y":1.7},{"x":4500,"y":1.0},{"x":4515,"y":1.4},{"x":4530,"y":0.6},{"x":4545,"y":1.2},{"x":4560,"y":0.9},{"x":4575,"y":1.5},{"x":4590,"y":0.5},{"x":4605,"y":1.8},{"x":4620,"y":1.0},{"x":4635,"y":1.3},{"x":4650,"y":0.7},{"x":4665,"y":1.1},{"x":4680,"y":0.4},{"x":4695,"y":1.2},{"x":4710,"y":0.2},{"x":4725,"y":1.0},{"x":4740,"y":0.6},{"x":4755,"y":1.4},{"x":4770,"y":1.85},{"x":4785,"y":1.0},{"x":4800,"y":1.5},{"x":4815,"y":0.7},{"x":4830,"y":1.2},{"x":4845,"y":0.3},{"x":4860,"y":1.0},{"x":4875,"y":0.1},{"x":4890,"y":0.05},{"x":4905,"y":0.8},{"x":4920,"y":0.4},{"x":4935,"y":1.1},{"x":4950,"y":0.6},{"x":4965,"y":1.3},{"x":4980,"y":0.8},{"x":4990,"y":1.0}]
},
"spacing":15,
"bounds":"flush",
"vconcat":[
{"title":"ECG","width":662,"height":71,"layer":[
{"data":{"name":"span"},"mark":{"type":"rect","color":"#ffe6e6"},"encoding":{"x":{"field":"a","type":"quantitative","title":null},"x2":{"field":"b"}}},
{"data":{"name":"ecg"},"mark":{"type":"line","color":"#1f77b4","strokeWidth":1.3},"encoding":{"x":{"field":"x","type":"quantitative","title":null,"scale":{"domain":[0,5000],"nice":false},"axis":{"values":[0,1000,2000,3000,4000,5000],"format":"d","labelFlush":false}},"y":{"field":"y","type":"quantitative","title":null,"scale":{"domain":[3.99,6.2],"nice":false,"zero":false},"axis":{"values":[4,5,6],"format":"d"}}}}]},
{"title":"MatrixProfile=40","width":662,"height":70,"layer":[
{"data":{"name":"span"},"mark":{"type":"rect","color":"#ffe6e6"},"encoding":{"x":{"field":"a","type":"quantitative","title":null},"x2":{"field":"b"}}},
{"data":{"name":"mp40"},"mark":{"type":"line","color":"#1f77b4","strokeWidth":1.3},"encoding":{"x":{"field":"x","type":"quantitative","title":null,"scale":{"domain":[0,5000],"nice":false},"axis":{"values":[0,1000,2000,3000,4000,5000],"format":"d","labelFlush":false}},"y":{"field":"y","type":"quantitative","title":null,"scale":{"domain":[-0.06,7.2],"nice":false,"zero":false},"axis":{"values":[0,2,4,6],"format":"d"}}}}]},
{"title":"MatrixProfile=25","width":662,"height":71,"layer":[
{"data":{"name":"span"},"mark":{"type":"rect","color":"#ffe6e6"},"encoding":{"x":{"field":"a","type":"quantitative","title":null},"x2":{"field":"b"}}},
{"data":{"name":"mp25"},"mark":{"type":"line","color":"#1f77b4","strokeWidth":1.3},"encoding":{"x":{"field":"x","type":"quantitative","title":null,"scale":{"domain":[0,5000],"nice":false},"axis":{"values":[0,1000,2000,3000,4000,5000],"format":"d","labelFlush":false}},"y":{"field":"y","type":"quantitative","title":null,"scale":{"domain":[-0.02,4.93],"nice":false,"zero":false},"axis":{"values":[0,2,4],"format":"d"}}}}]},
{"title":"MatrixProfile=10","width":662,"height":69,"layer":[
{"data":{"name":"span"},"mark":{"type":"rect","color":"#ffe6e6"},"encoding":{"x":{"field":"a","type":"quantitative","title":null},"x2":{"field":"b"}}},
{"data":{"name":"mp10"},"mark":{"type":"line","color":"#1f77b4","strokeWidth":1.3},"encoding":{"x":{"field":"x","type":"quantitative","title":null,"scale":{"domain":[0,5000],"nice":false},"axis":{"values":[0,1000,2000,3000,4000,5000],"format":"d","labelFlush":false}},"y":{"field":"y","type":"quantitative","title":null,"scale":{"domain":[0,2.31],"nice":false,"zero":false},"axis":{"values":[0,1,2],"format":"d"}}}}]}
]
}
